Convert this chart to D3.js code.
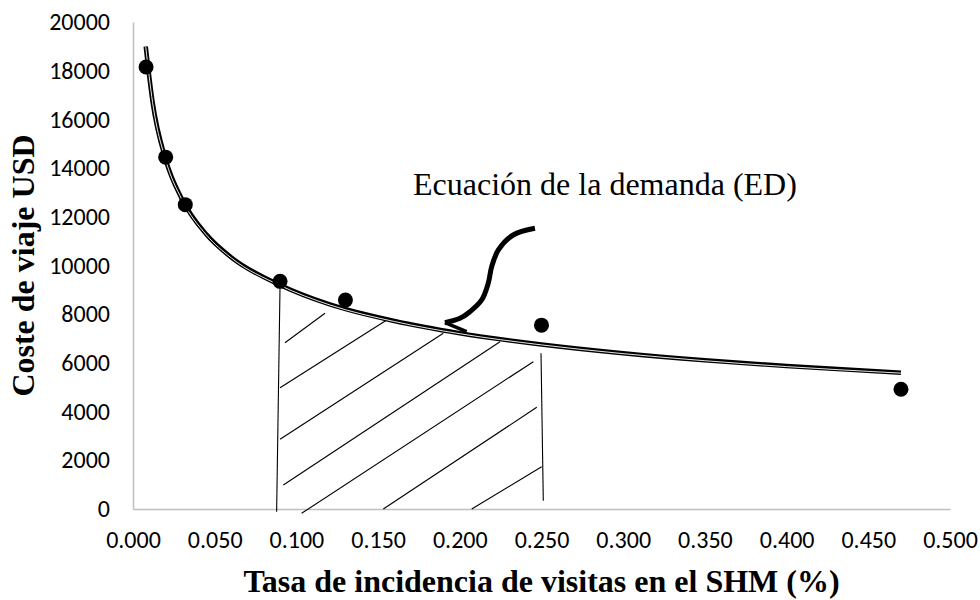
<!DOCTYPE html>
<html>
<head>
<meta charset="utf-8">
<script src="https://cdn.jsdelivr.net/npm/d3@7"></script>
<style>
  body { margin: 0; background: #fff; }
  .tick-label { font-family: Carlito, Lato, "Open Sans", sans-serif; font-size: 24px; fill: #000; }
  .title { font-family: "Liberation Serif", "Times New Roman", serif; font-weight: bold; font-size: 32px; fill: #000; }
  .note { font-family: "Liberation Serif", "Times New Roman", serif; font-size: 32px; fill: #000; }
</style>
</head>
<body>
<div id="chart"></div>
<script>
const width = 980;
const height = 600;

// axis ticks
const xTicks = [0, 0.05, 0.1, 0.15, 0.2, 0.25, 0.3, 0.35, 0.4, 0.45, 0.5];
const yTicks = [0, 2000, 4000, 6000, 8000, 10000, 12000, 14000, 16000, 18000, 20000];

// observed points
const obsX = [0.008, 0.020, 0.032, 0.090, 0.130, 0.250, 0.470];
const obsY = [18150, 14450, 12500, 9350, 8580, 7550, 4920];

// demand curve
const curveX = [0.0078, 0.012, 0.02, 0.03, 0.045, 0.06, 0.09, 0.12, 0.16, 0.2, 0.25, 0.3, 0.35, 0.4, 0.47];
const curveY = [18990, 16710, 14350, 12720, 11270, 10340, 9200, 8410, 7720, 7220, 6760, 6400, 6110, 5870, 5600];

// hand drawn hatching under the curve: [x1, y1, x2, y2]
const hatch = [
  [0.0930, 6830, 0.1175, 8037],
  [0.0900, 4982, 0.1553, 7762],
  [0.0900, 2863, 0.1899, 7216],
  [0.0920, 986, 0.2246, 6871],
  [0.1032, -177, 0.2450, 6050],
  [0.1532, 0, 0.2471, 4177],
  [0.2073, 0, 0.2501, 1737],
  [0.0879, -111, 0.0900, 9260],
  [0.2497, 6395, 0.2511, 341]
];

// arrow pointing at the curve
const arrowX = [0.2460, 0.2327, 0.2236, 0.2195, 0.2174, 0.2134, 0.2062, 0.2001, 0.1909];
const arrowY = [11528, 11253, 10637, 9951, 9270, 8584, 8103, 7832, 7651];
const arrowHead = [0.1909, 7651, 0.2042, 7282];

const noteText = "Ecuación de la demanda (ED)";
const xTitle = "Tasa de incidencia de visitas en el SHM (%)";
const yTitle = "Coste de viaje USD";

var svg = d3.select("#chart").append("svg")
  .attr("width", width)
  .attr("height", height);

var x = d3.scaleLinear().domain([0, 0.5]).range([133, 950]);
var y = d3.scaleLinear().domain([0, 20000]).range([509, 22]);

// axes
var xAxis = svg.append("g")
  .attr("transform", "translate(0," + y(0) + ")")
  .call(d3.axisBottom(x).tickValues(xTicks).tickSize(0).tickPadding(22).tickFormat(d3.format(".3f")));
var yAxis = svg.append("g")
  .attr("transform", "translate(" + x(0) + ",0)")
  .call(d3.axisLeft(y).tickValues(yTicks).tickSize(0).tickPadding(23).tickFormat(d3.format("d")));

[xAxis, yAxis].forEach((g) => {
  g.attr("font-family", null).attr("font-size", null);
  g.select(".domain").attr("stroke", "#bfbfbf").attr("stroke-width", 1.5);
  g.selectAll("text").attr("class", "tick-label");
});
xAxis.selectAll("text").attr("dy", "0.71em");

// hatching
svg.append("g").selectAll("line").data(hatch).enter().append("line")
  .attr("x1", (d) => x(d[0]))
  .attr("y1", (d) => y(d[1]))
  .attr("x2", (d) => x(d[2]))
  .attr("y2", (d) => y(d[3]))
  .attr("stroke", "#000")
  .attr("stroke-width", 1.1);

// demand curve, double line style
var curvePts = curveX.map((v, i) => [v, curveY[i]]);
var line = d3.line()
  .x((d) => x(d[0]))
  .y((d) => y(d[1]))
  .curve(d3.curveMonotoneX);

svg.append("path")
  .attr("d", line(curvePts))
  .attr("fill", "none")
  .attr("stroke", "#000")
  .attr("stroke-width", 4.5);
svg.append("path")
  .attr("d", line(curvePts))
  .attr("transform", "translate(0,0.5)")
  .attr("fill", "none")
  .attr("stroke", "#fff")
  .attr("stroke-width", 0.9);

// points
svg.append("g").selectAll("circle").data(obsX).enter().append("circle")
  .attr("cx", (d) => x(d))
  .attr("cy", (d, i) => y(obsY[i]))
  .attr("r", 7.5)
  .attr("fill", "#000");

// arrow
var arrowPts = arrowX.map((v, i) => [v, arrowY[i]]);
svg.append("path")
  .attr("d", d3.line().x((d) => x(d[0])).y((d) => y(d[1])).curve(d3.curveCatmullRom)(arrowPts))
  .attr("fill", "none")
  .attr("stroke", "#000")
  .attr("stroke-width", 5);
svg.append("line")
  .attr("x1", x(arrowHead[0]))
  .attr("y1", y(arrowHead[1]))
  .attr("x2", x(arrowHead[2]))
  .attr("y2", y(arrowHead[3]))
  .attr("stroke", "#000")
  .attr("stroke-width", 3.5);

// annotation
svg.append("text")
  .attr("class", "note")
  .attr("x", x(0.1714))
  .attr("y", y(12875))
  .text(noteText);

// axis titles
svg.append("text")
  .attr("class", "title")
  .attr("x", (x(0) + x(0.5)) / 2)
  .attr("y", 592)
  .attr("text-anchor", "middle")
  .text(xTitle);

svg.append("text")
  .attr("class", "title")
  .attr("transform", "translate(34," + (y(0) + y(20000)) / 2 + ") rotate(-90)")
  .attr("text-anchor", "middle")
  .text(yTitle);
</script>
</body>
</html>
